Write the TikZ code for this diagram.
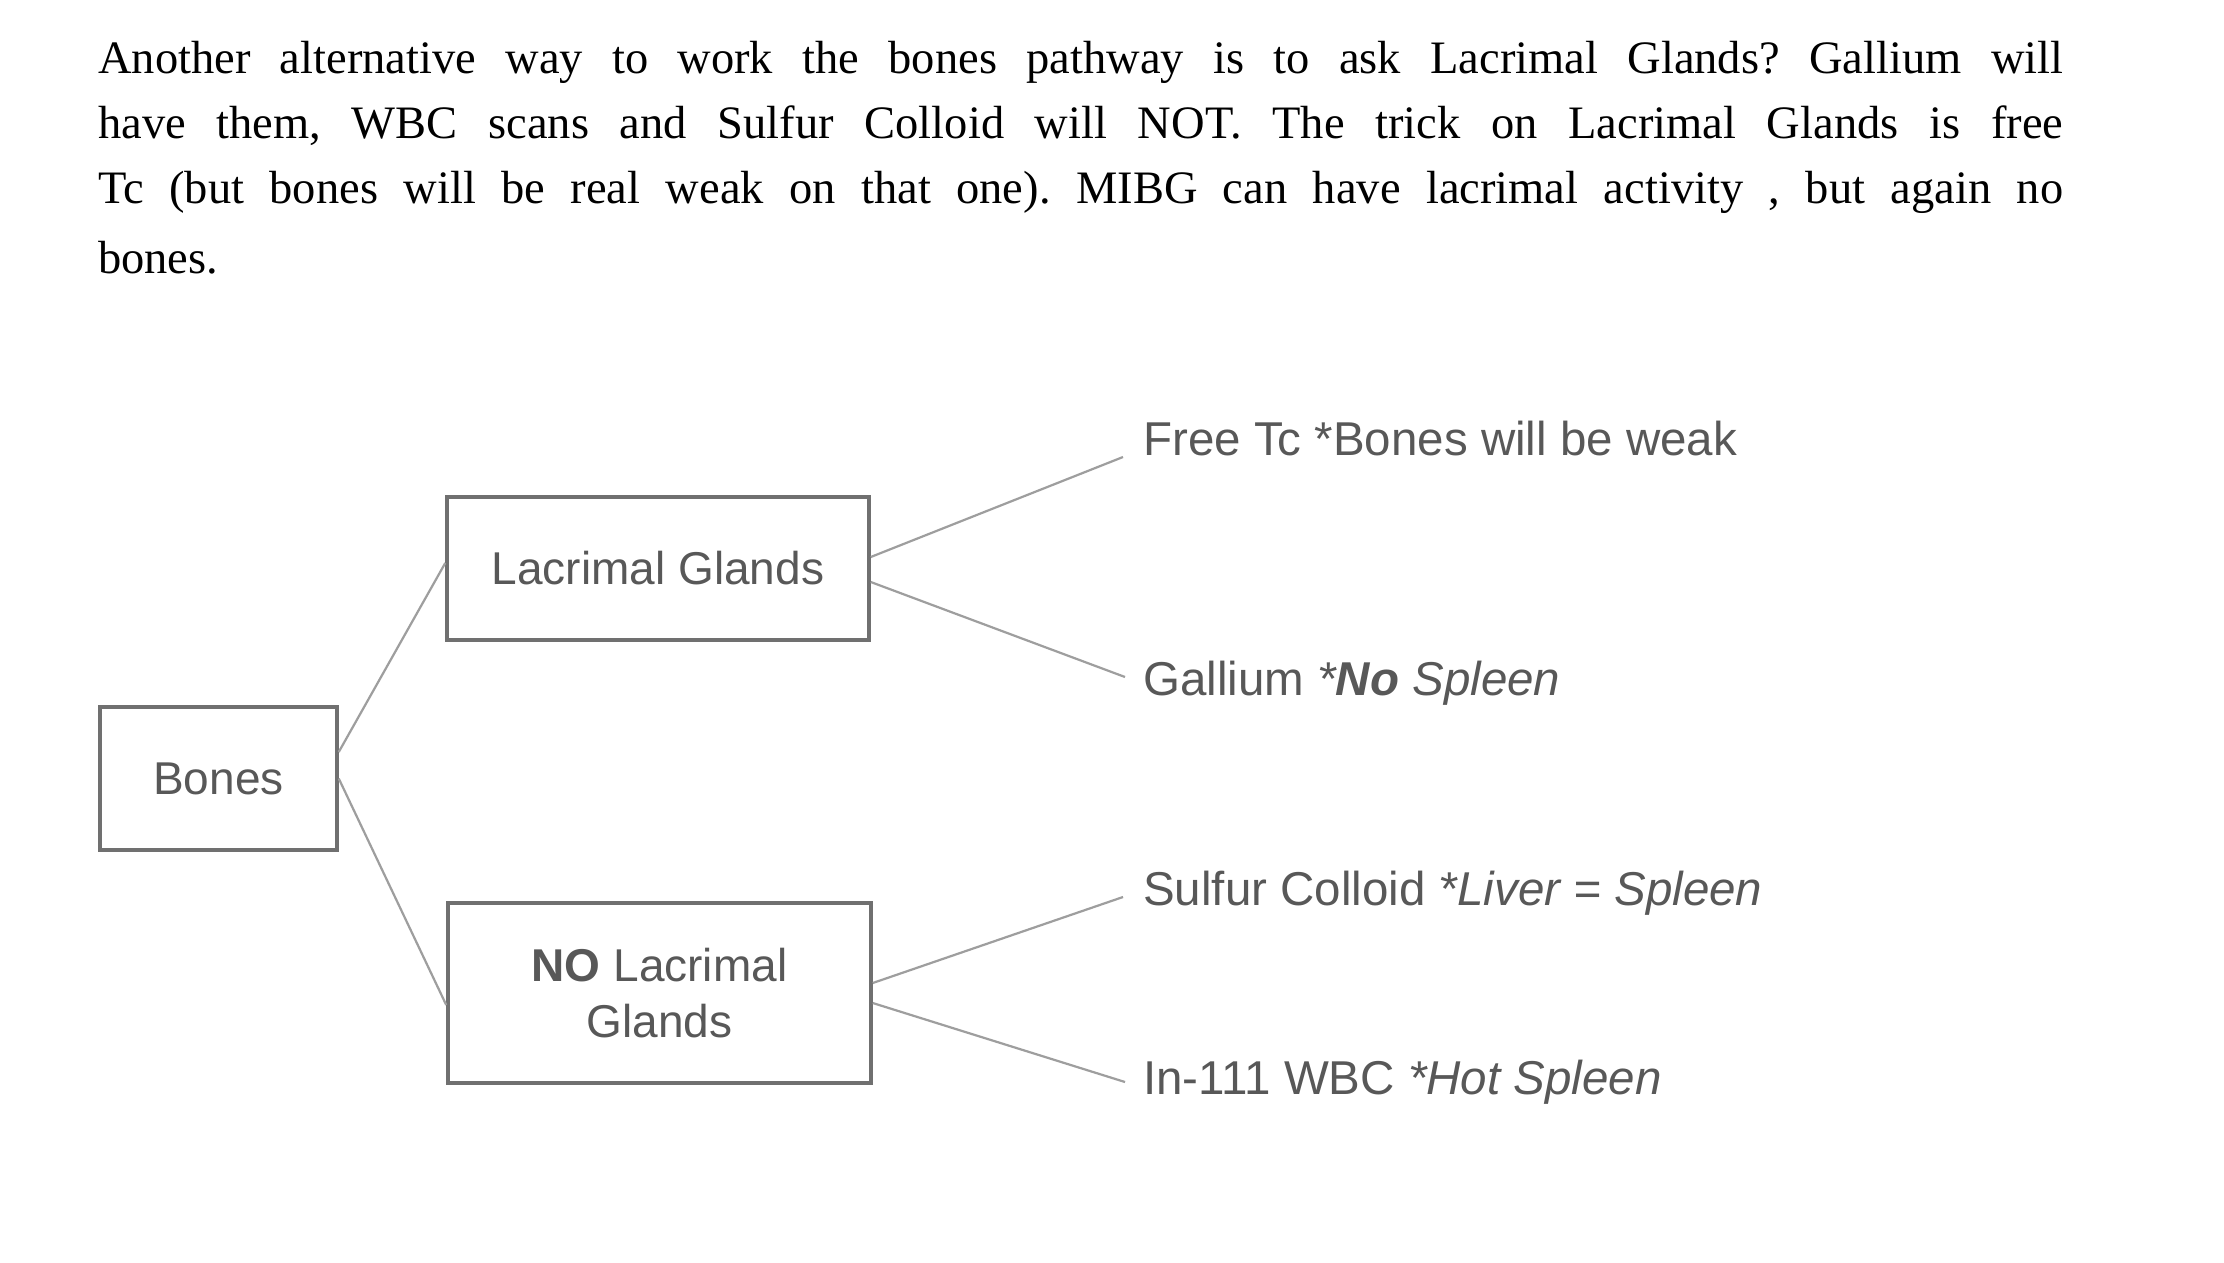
\documentclass[tikz,border=0pt]{standalone}
\usepackage{fontspec}
\setmainfont{Liberation Serif}
\newfontfamily\diagfont{Liberation Sans}
\usetikzlibrary{calc}
\definecolor{txtgray}{RGB}{88,88,88}
\definecolor{boxgray}{RGB}{112,112,112}
\definecolor{linegray}{RGB}{158,158,158}
\frenchspacing
\begin{document}
\begin{tikzpicture}[x=1pt,y=-1pt,
  box/.style={draw=boxgray, line width=3.5pt, inner sep=0pt, font=\diagfont\fontsize{46}{56}\selectfont, text=txtgray, align=center},
  leaf/.style={anchor=base west, inner sep=0pt, font=\diagfont\fontsize{47.5}{56}\selectfont, text=txtgray},
  para/.style={anchor=base west, inner sep=0pt, font=\fontsize{46.5}{65}\selectfont},
  conn/.style={draw=linegray, line width=2.2pt}]
\fill[white] (0,0) rectangle (2224,1262);
\useasboundingbox (0,0) rectangle (2224,1262);

% paragraph
\node[para] (p1) at (98,73) {\makebox[1965pt][s]{Another alternative way to work the bones pathway is to ask Lacrimal Glands? Gallium will}};
\node[para] (p2) at (98,138) {\makebox[1965pt][s]{have them, WBC scans and Sulfur Colloid will NOT. The trick on Lacrimal Glands is free}};
\node[para] (p3) at (98,203) {\makebox[1965pt][s]{Tc (but bones will be real weak on that one). MIBG can have lacrimal activity , but again no}};
\node[para] (p4) at (98,273) {bones.};

% boxes
\node[box, minimum width=237pt, minimum height=143pt] (bones) at (218.5,778.5) {Bones};
\node[box, minimum width=422pt, minimum height=143pt] (lac) at (658,568.5) {Lacrimal Glands};
\node[box, minimum width=423pt, minimum height=180pt] (nolac) at (659.5,993) {\textbf{NO} Lacrimal\\Glands};

% leaves
\node[leaf] (free) at (1143,455) {Free Tc *Bones will be weak};
\node[leaf] (gal) at (1143,695) {Gallium {\itshape *\textbf{No} Spleen}};
\node[leaf] (sul) at (1143,905) {Sulfur Colloid {\itshape *Liver = Spleen}};
\node[leaf] (inw) at (1143,1094) {In-111 WBC {\itshape *Hot Spleen}};

% connectors
\draw[conn] ($(bones.east)+(0,-26.5)$) -- ($(lac.west)+(0,-5.5)$);
\draw[conn] (bones.east) -- ($(nolac.west)+(0,12)$);
\draw[conn] ($(lac.east)+(0,-11.5)$) -- ($(free.base west)+(-20,2)$);
\draw[conn] ($(lac.east)+(0,13.5)$) -- ($(gal.base west)+(-18,-18)$);
\draw[conn] ($(nolac.east)+(0,-10)$) -- ($(sul.base west)+(-20,-8)$);
\draw[conn] ($(nolac.east)+(0,10)$) -- ($(inw.base west)+(-18,-12)$);
\end{tikzpicture}
\end{document}
